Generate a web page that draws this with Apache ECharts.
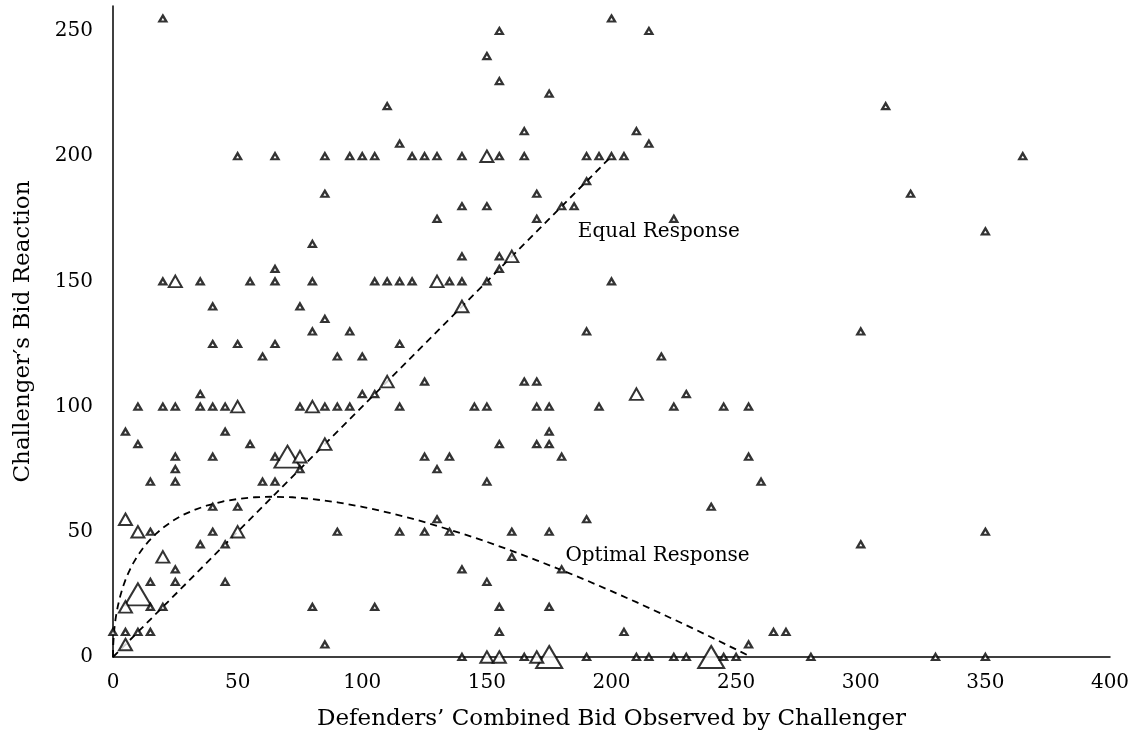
<!DOCTYPE html>
<html>
<head>
<meta charset="utf-8">
<script src="https://cdn.jsdelivr.net/npm/echarts@6/dist/echarts.min.js"></script>
<style>
  html, body { margin: 0; padding: 0; background: #fff; }
  #chart { width: 1139px; height: 736px; }
</style>
</head>
<body>
<div id="chart"></div>
<script>
// ---- data ----
const xAxisTitle = 'Defenders’ Combined Bid Observed by Challenger';
const yAxisTitle = 'Challenger′s Bid Reaction';
const xTicks = [0, 50, 100, 150, 200, 250, 300, 350, 400];
const yTicks = [0, 50, 100, 150, 200, 250];

// single observations (small triangles)
const singlePts = [
  [20,255],[200,255],
  [155,250],[215,250],
  [150,240],[155,230],[175,225],
  [110,220],[310,220],
  [165,210],[210,210],
  [115,205],[215,205],
  [50,200],[65,200],[85,200],[95,200],[100,200],[105,200],[120,200],[125,200],[130,200],[140,200],[155,200],[165,200],[190,200],[195,200],[200,200],[205,200],[365,200],
  [190,190],
  [85,185],[170,185],[320,185],
  [140,180],[150,180],[180,180],[185,180],
  [130,175],[170,175],[225,175],
  [350,170],
  [80,165],
  [140,160],[155,160],
  [65,155],[155,155],
  [20,150],[35,150],[55,150],[65,150],[80,150],[105,150],[110,150],[115,150],[120,150],[135,150],[140,150],[150,150],[200,150],
  [40,140],[75,140],
  [85,135],
  [80,130],[95,130],[190,130],[300,130],
  [40,125],[50,125],[65,125],[115,125],
  [60,120],[90,120],[100,120],[220,120],
  [125,110],[165,110],[170,110],
  [35,105],[100,105],[105,105],[230,105],
  [10,100],[20,100],[25,100],[35,100],[40,100],[45,100],[75,100],[85,100],[90,100],[95,100],[115,100],[145,100],[150,100],[170,100],[175,100],[195,100],[225,100],[245,100],[255,100],
  [5,90],[45,90],[175,90],
  [10,85],[55,85],[155,85],[170,85],[175,85],
  [25,80],[40,80],[65,80],[125,80],[135,80],[180,80],[255,80],
  [25,75],[75,75],[130,75],
  [15,70],[25,70],[60,70],[65,70],[150,70],[260,70],
  [40,60],[50,60],[240,60],
  [130,55],[190,55],
  [15,50],[40,50],[90,50],[115,50],[125,50],[135,50],[160,50],[175,50],[350,50],
  [35,45],[45,45],[300,45],
  [160,40],
  [25,35],[140,35],[180,35],
  [15,30],[25,30],[45,30],[150,30],
  [15,20],[20,20],[80,20],[105,20],[155,20],[175,20],
  [0,10],[5,10],[10,10],[15,10],[155,10],[205,10],[265,10],[270,10],
  [85,5],[255,5],
  [140,0],[165,0],[190,0],[210,0],[215,0],[225,0],[230,0],[245,0],[250,0],[280,0],[330,0],[350,0]
];

// two coinciding observations (medium triangles)
const doublePts = [
  [150,200],[160,160],[25,150],[130,150],[140,140],[110,110],[210,105],
  [50,100],[80,100],[85,85],[75,80],[5,55],[10,50],[50,50],[20,40],
  [5,20],[5,5],[150,0],[155,0],[170,0]
];

// several coinciding observations (large triangles)
const multiPts = [
  [70,80],[10,25],[175,0],[240,0]
];

// reference lines
const equalResponse = [[0,0],[200,200]];
const optimalResponse = [
  [0,0],[0.1,5],[0.3,8.5],[0.6,11.8],[1,15],[1.5,18.1],[2,20.6],[3,24.7],[4,28],
  [5,30.8],[6,33.2],[7,35.3],[8,37.3],[10,40.6],[12,43.4],[14,45.9],[17,49],
  [20,51.6],[24,54.4],[28,56.7],[33,58.9],[38,60.6],[44,62.1],[50,63.1],[57,63.8],
  [64,64],[72,63.8],[80,63.1],[90,61.8],[100,60],[110,57.8],[120,55.3],[130,52.4],
  [140,49.3],[150,46],[160,42.4],[170,38.6],[180,34.7],[190,30.6],[200,26.3],
  [210,21.9],[220,17.3],[230,12.7],[240,7.9],[250,3],[256,0]
];

const labelEqual = 'Equal Response';
const labelOptimal = 'Optimal Response';

// ---- chart ----
const FONT = 'DejaVu Serif';
const chart = echarts.init(document.getElementById('chart'), null, {renderer: 'canvas'});

function triSeries(name, data, size, bw, z) {
  return {
    name: name, type: 'scatter', data: data, symbol: 'triangle',
    symbolSize: size,
    itemStyle: {color: '#ffffff', borderColor: '#000000', borderWidth: bw},
    z: z, silent: true
  };
}
const dashStyle = {color: '#000', width: 1.8, type: [7, 5]};

const option = {
  animation: false,
  backgroundColor: '#ffffff',
  grid: {left: 113, right: 29, top: 6, bottom: 79},
  xAxis: {
    type: 'value', min: xTicks[0], max: xTicks[xTicks.length - 1], interval: 50,
    name: xAxisTitle, nameLocation: 'middle', nameGap: 51,
    nameTextStyle: {fontFamily: FONT, fontSize: 23, color: '#000'},
    axisLine: {show: true, onZero: false, lineStyle: {color: '#000', width: 1.5}},
    axisTick: {show: false}, splitLine: {show: false},
    axisLabel: {fontFamily: FONT, fontSize: 20, color: '#000', margin: 16,
      formatter: v => xTicks.includes(v) ? String(v) : ''}
  },
  yAxis: {
    type: 'value', min: 0, max: 260, interval: 50,
    name: yAxisTitle, nameLocation: 'middle', nameGap: 78,
    nameTextStyle: {fontFamily: FONT, fontSize: 23, color: '#000'},
    axisLine: {show: true, onZero: false, lineStyle: {color: '#000', width: 1.5}},
    axisTick: {show: false}, splitLine: {show: false},
    axisLabel: {fontFamily: FONT, fontSize: 20, color: '#000', margin: 20,
      showMaxLabel: false,
      formatter: v => yTicks.includes(v) ? String(v) : ''}
  },
  series: [
    {
      name: labelEqual, type: 'line', data: equalResponse, symbol: 'none',
      lineStyle: dashStyle, z: 1, silent: true,
      markPoint: {
        symbol: 'circle', symbolSize: 0, silent: true,
        label: {show: true, position: 'right', distance: 0, fontFamily: FONT, fontSize: 20, color: '#000',
          formatter: labelEqual},
        data: [{coord: [186.5, 170]}]
      }
    },
    {
      name: labelOptimal, type: 'line', data: optimalResponse, symbol: 'none',
      smooth: false,
      lineStyle: dashStyle, z: 1, silent: true,
      markPoint: {
        symbol: 'circle', symbolSize: 0, silent: true,
        label: {show: true, position: 'right', distance: 0, fontFamily: FONT, fontSize: 20, color: '#000',
          formatter: labelOptimal},
        data: [{coord: [181.5, 40.3]}]
      }
    },
    triSeries('multiple', multiPts, [26, 22], 2, 2),
    triSeries('double', doublePts, [13, 11.5], 2, 3),
    triSeries('single', singlePts, [7, 6], 2.3, 4)
  ]
};
chart.setOption(option);
</script>
</body>
</html>
